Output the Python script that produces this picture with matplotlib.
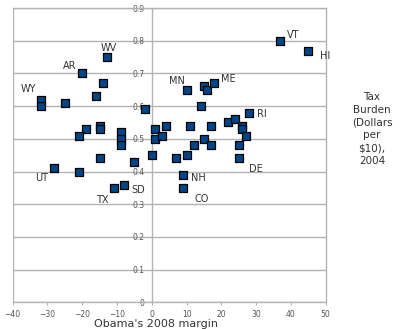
import matplotlib
matplotlib.use("Agg")
import matplotlib.pyplot as plt
from matplotlib.markers import MarkerStyle

# Obama's 2008 margin (x) vs tax burden per $10, 2004 (y)
margin = [-13, -20, -14, -16, -32, -32, -25, -2, -19, -21,
          -15, -15, -9, -9, -9, -15, -5, 0, 1, 1,
          3, 4, 11, 12, 10, 7, 10, 15, 16, 18,
          14, 28, 17, 22, 24, 26, 26, 27, 15, 17,
          25, 25, 9, 9, -28, -21, -11, -8, 37, 45]
burden = [0.75, 0.70, 0.67, 0.63, 0.62, 0.60, 0.61, 0.59, 0.53, 0.51,
          0.54, 0.53, 0.52, 0.50, 0.48, 0.44, 0.43, 0.45, 0.53, 0.50,
          0.51, 0.54, 0.54, 0.48, 0.45, 0.44, 0.65, 0.66, 0.65, 0.67,
          0.60, 0.58, 0.54, 0.55, 0.56, 0.54, 0.53, 0.51, 0.50, 0.48,
          0.48, 0.44, 0.39, 0.35, 0.41, 0.40, 0.35, 0.36, 0.80, 0.77]
# labelled states: index into the arrays above, name, label offset (pixels)
labels = [(0, "WV", (2, 9)), (1, "AR", (-13, 7)), (4, "WY", (-12, 11)),
          (26, "MN", (-10, 9)), (29, "ME", (14, 4)), (48, "VT", (13, 6)),
          (49, "HI", (17, -5)), (31, "RI", (13, -1)), (41, "DE", (17, -11)),
          (42, "NH", (15, -3)), (43, "CO", (19, -11)), (44, "UT", (-13, -10)),
          (46, "TX", (-11, -12)), (47, "SD", (14, -5))]

grid_c = "#b3b3b3"
text_c = "#333333"

fig = plt.figure(figsize=(4, 3.29), dpi=100)
ax = fig.add_axes([12.7 / 400, 1 - 302.3 / 329, 313 / 400, 294.3 / 329])

ax.set_xlim(-40, 50)
ax.set_ylim(0, 0.9)
ax.set_xticks(range(-40, 51, 10))
ax.set_yticks([i / 10 for i in range(10)])
ax.set_yticklabels(["0"] + ["%.1f" % (i / 10) for i in range(1, 10)])

ax.grid(axis="y", color=grid_c, lw=1)
ax.set_axisbelow(True)
for s in ax.spines.values():
    s.set_color(grid_c)
    s.set_linewidth(1)
ax.spines["left"].set_position(("data", 0))
ax.axvline(-40, color=grid_c, lw=1, zorder=0)
ax.tick_params(axis="x", colors=grid_c, labelcolor="#555555", labelsize=5.5,
               length=2.4, pad=3.2)
ax.tick_params(axis="y", colors=grid_c, labelcolor="#555555", labelsize=5.5,
               length=0, pad=5)

mk = MarkerStyle("s", joinstyle="round")
ax.plot(margin, burden, ls="none", marker=mk, ms=5.6, mfc="#004586",
        mec="black", mew=0.9, zorder=3)

for i, name, off in labels:
    ax.annotate(name, (margin[i], burden[i]), xytext=off,
                textcoords="offset pixels", ha="center", va="center",
                fontsize=7, color=text_c)

fig.text(155.5 / 400, 1 - 324.3 / 329, "Obama's 2008 margin", ha="center",
         va="center", fontsize=8, color=text_c)
fig.text(372 / 400, 1 - 129 / 329, "Tax\nBurden\n(Dollars\nper\n$10),\n2004",
         ha="center", va="center", fontsize=7.5, color=text_c,
         linespacing=1.35)

fig.savefig("out.png", dpi=100)
